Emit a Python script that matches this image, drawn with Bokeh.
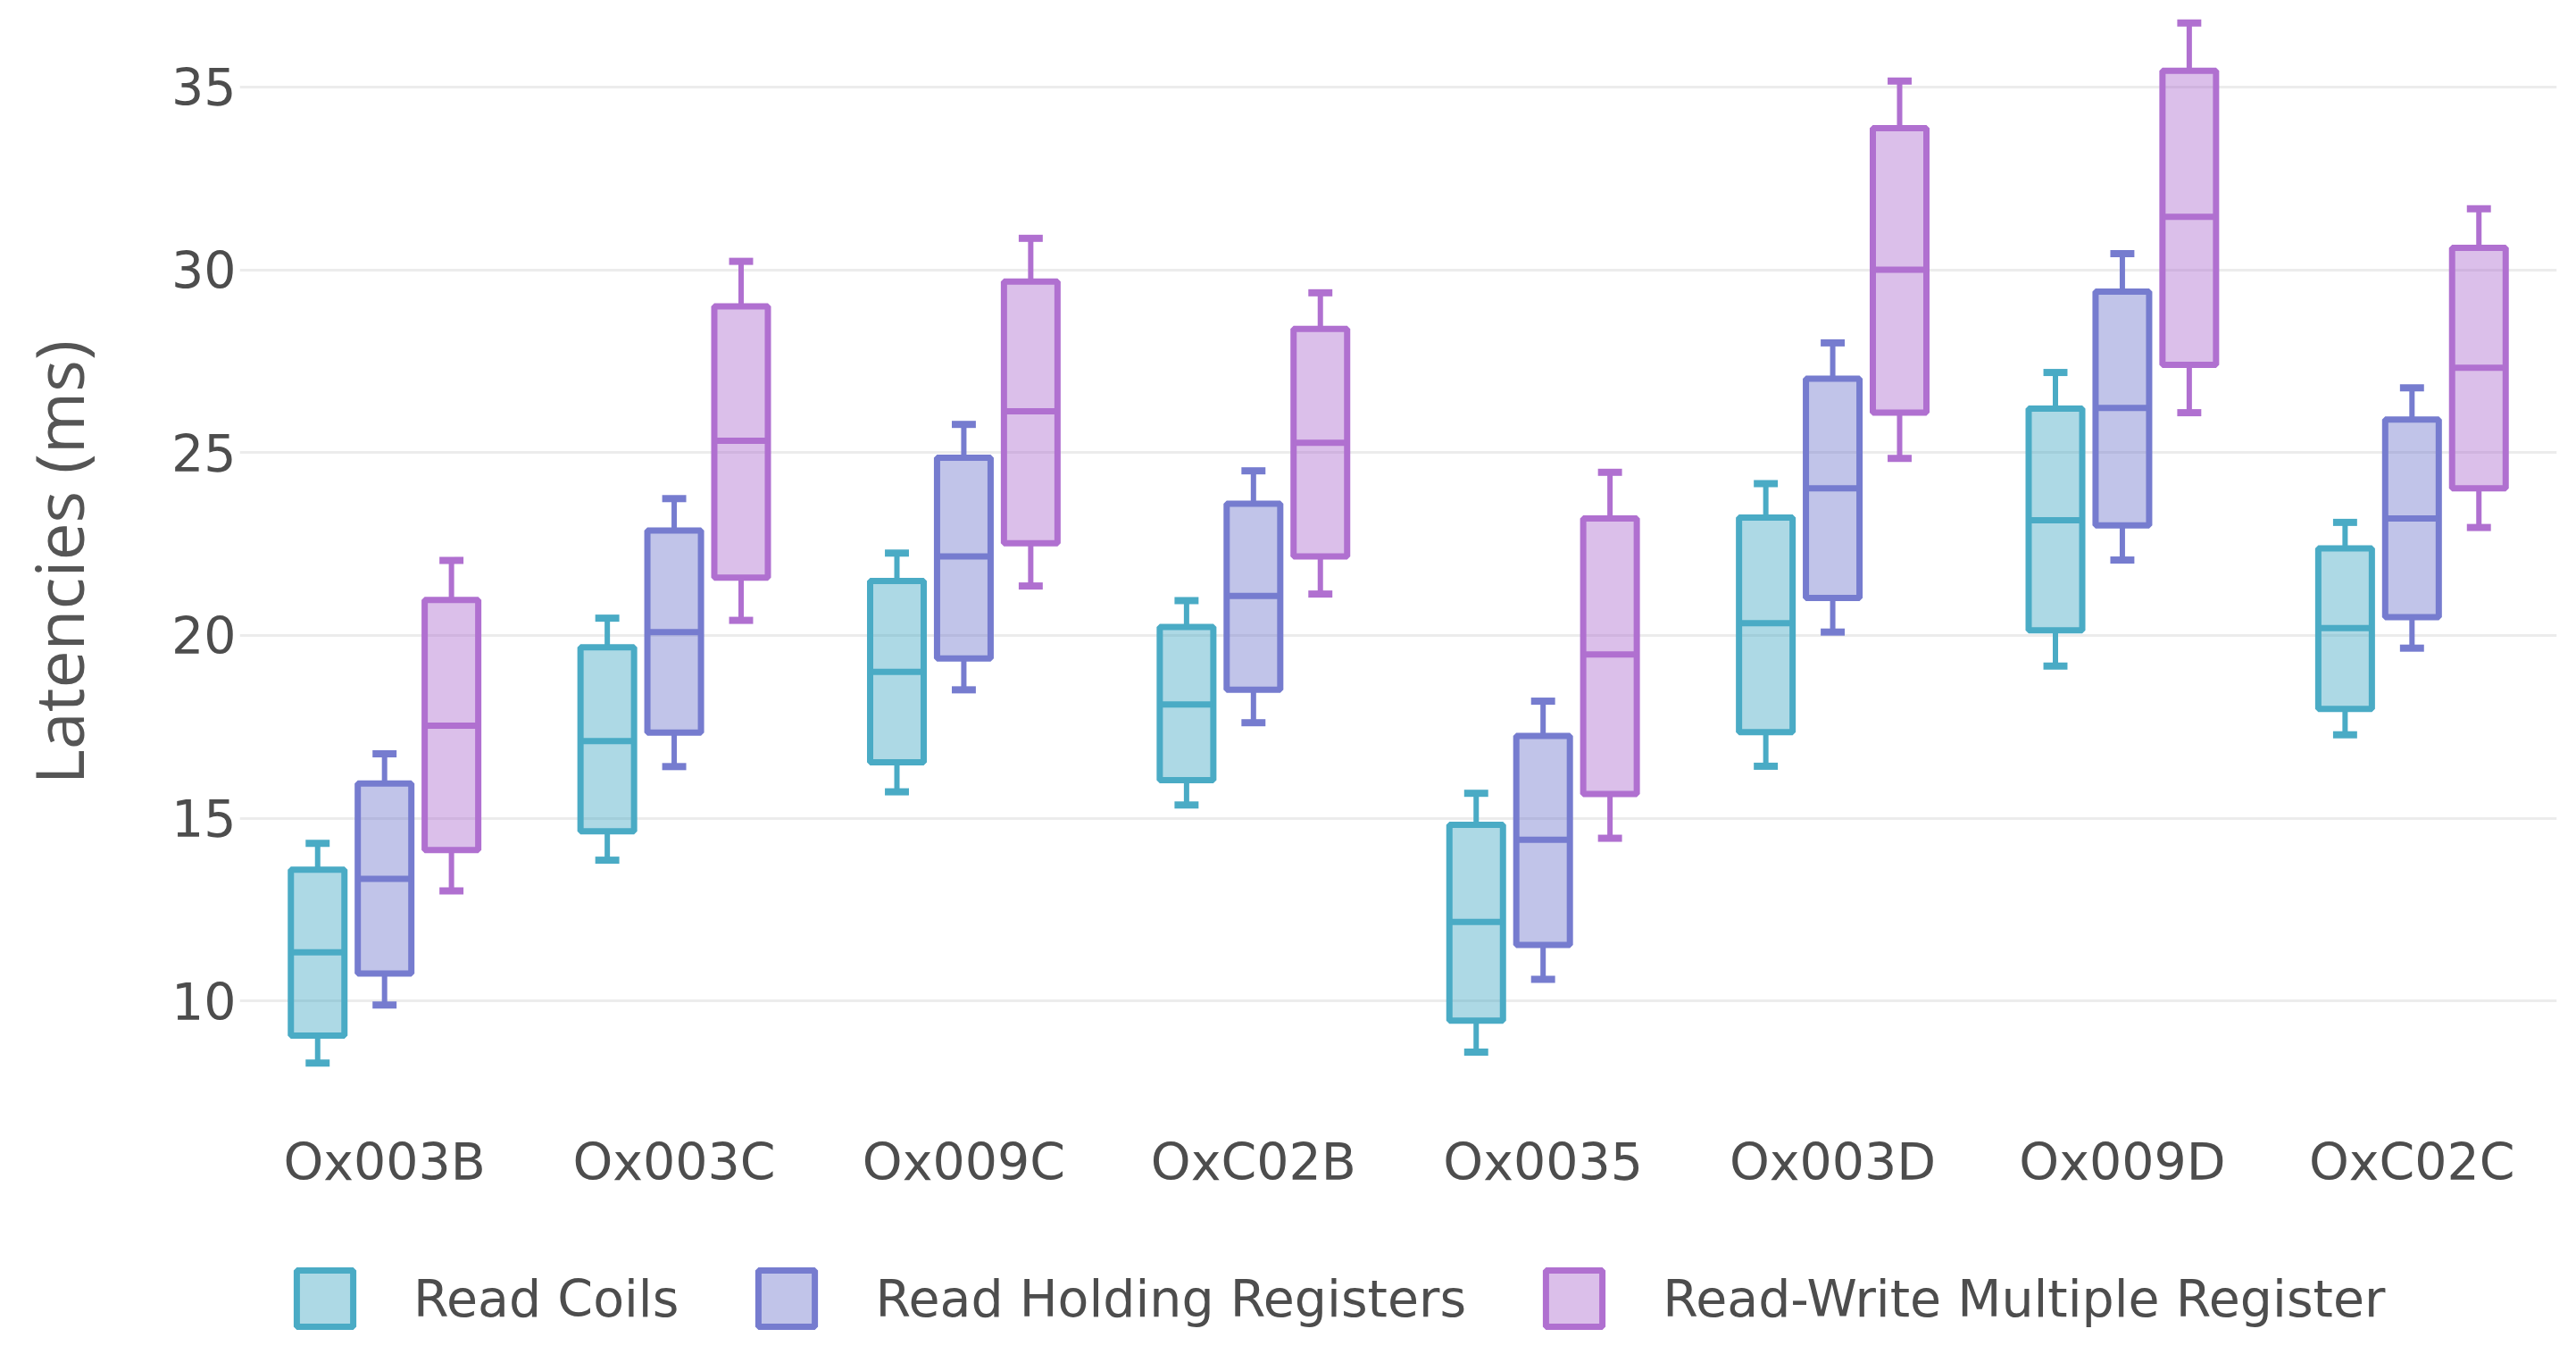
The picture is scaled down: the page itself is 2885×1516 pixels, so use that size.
from bokeh.plotting import figure
from bokeh.models import FactorRange, Legend, LegendItem, SingleIntervalTicker, ColumnDataSource
from bokeh.transform import dodge
from bokeh.layouts import column
from bokeh.embed import file_html
from bokeh.resources import INLINE

categories = ["Ox003B", "Ox003C", "Ox009C", "OxC02B", "Ox0035", "Ox003D", "Ox009D", "OxC02C"]
series_names = ["Read Coils", "Read Holding Registers", "Read-Write Multiple Register"]
series_colors = ["#4aabc5", "#767ccf", "#b070d0"]

rc_low = [8.30, 13.85, 15.72, 15.36, 8.60, 16.42, 19.16, 17.28]
rc_q1 = [9.05, 14.64, 16.53, 16.04, 9.46, 17.35, 20.14, 17.99]
rc_med = [11.33, 17.11, 19.00, 18.11, 12.16, 20.33, 23.15, 20.20]
rc_q3 = [13.59, 19.67, 21.49, 20.23, 14.82, 23.22, 26.20, 22.38]
rc_up = [14.31, 20.47, 22.25, 20.95, 15.68, 24.15, 27.19, 23.09]

rh_low = [9.89, 16.41, 18.51, 17.61, 10.59, 20.09, 22.06, 19.65]
rh_q1 = [10.75, 17.34, 19.37, 18.51, 11.53, 21.02, 23.01, 20.50]
rh_med = [13.34, 20.09, 22.16, 21.08, 14.41, 24.02, 26.22, 23.20]
rh_q3 = [15.95, 22.87, 24.86, 23.60, 17.25, 27.02, 29.40, 25.90]
rh_up = [16.76, 23.74, 25.77, 24.50, 18.20, 28.00, 30.44, 26.77]

rw_low = [13.01, 20.41, 21.35, 21.13, 14.45, 24.84, 26.09, 22.95]
rw_q1 = [14.13, 21.58, 22.52, 22.16, 15.66, 26.09, 27.40, 24.02]
rw_med = [17.53, 25.32, 26.13, 25.27, 19.48, 30.00, 31.45, 27.32]
rw_q3 = [20.97, 29.00, 29.68, 28.38, 23.20, 33.87, 35.44, 30.60]
rw_up = [22.05, 30.23, 30.86, 29.37, 24.46, 35.16, 36.75, 31.67]

y_label = "Latencies (ms)"

p = figure(x_range=FactorRange(*categories), y_range=(7, 37),
           width=2877, height=1360, output_backend="svg", toolbar_location=None,
           min_border_left=268, min_border_right=14, min_border_top=15, min_border_bottom=117)
p.outline_line_color = None
p.background_fill_color = "white"
p.border_fill_color = "white"
p.xgrid.grid_line_color = None
p.ygrid.grid_line_color = "#ececec"
p.ygrid.grid_line_width = 3

p.yaxis.ticker = SingleIntervalTicker(interval=5)
for ax in (p.xaxis[0], p.yaxis[0]):
    ax.axis_line_color = None
    ax.major_tick_line_color = None
    ax.minor_tick_line_color = None
    ax.major_tick_out = 0
    ax.major_tick_in = 0
    ax.minor_tick_out = 0
    ax.major_label_text_font = "DejaVu Sans"
    ax.major_label_text_font_size = "57px"
    ax.major_label_text_color = "#4d4d4d"
p.xaxis.major_label_standoff = 24
p.yaxis.major_label_standoff = 4
p.yaxis.axis_label = y_label
p.yaxis.axis_label_text_font = "Open Sans"
p.yaxis.axis_label_text_font_style = "normal"
p.yaxis.axis_label_text_font_size = "75px"
p.yaxis.axis_label_text_color = "#555555"
p.yaxis.axis_label_standoff = 73

offsets = [-0.231, 0.0, 0.231]
box_w = 0.185
cap_w = 0.083
data = [
    (rc_low, rc_q1, rc_med, rc_q3, rc_up),
    (rh_low, rh_q1, rh_med, rh_q3, rh_up),
    (rw_low, rw_q1, rw_med, rw_q3, rw_up),
]

for name, color, off, (lo, q1, md, q3, up) in zip(series_names, series_colors, offsets, data):
    src = ColumnDataSource(dict(cat=categories, low=lo, q1=q1, med=md, q3=q3, up=up))
    xc = dodge("cat", off, range=p.x_range)
    xl_cap = dodge("cat", off - cap_w / 2, range=p.x_range)
    xr_cap = dodge("cat", off + cap_w / 2, range=p.x_range)
    xl_box = dodge("cat", off - box_w / 2, range=p.x_range)
    xr_box = dodge("cat", off + box_w / 2, range=p.x_range)
    p.segment(x0=xc, x1=xc, y0="q3", y1="up", source=src, line_color=color, line_width=6)
    p.segment(x0=xc, x1=xc, y0="low", y1="q1", source=src, line_color=color, line_width=6)
    p.segment(x0=xl_cap, x1=xr_cap, y0="up", y1="up", source=src, line_color=color, line_width=8)
    p.segment(x0=xl_cap, x1=xr_cap, y0="low", y1="low", source=src, line_color=color, line_width=8)
    p.vbar(x=xc, width=box_w, bottom="q1", top="q3", source=src,
           fill_color=color, fill_alpha=0.45, line_color=color, line_width=7)
    p.segment(x0=xl_box, x1=xr_box, y0="med", y1="med", source=src, line_color=color, line_width=7)

# legend strip below the chart (its frame is aligned with the chart's frame)
p2 = figure(width=2877, height=148, output_backend="svg", toolbar_location=None,
            x_range=(0, 1), y_range=(0, 1), x_axis_location=None, y_axis_location=None,
            min_border_left=0, min_border_right=0, min_border_top=0, min_border_bottom=0)
p2.outline_line_color = None
p2.grid.visible = False
p2.background_fill_color = "white"
p2.border_fill_color = "white"

nan = float("nan")
items = []
for name, color in zip(series_names, series_colors):
    # legend proxy with no drawable data; only its legend swatch shows
    r = p2.vbar(x=[nan], bottom=[nan], top=[nan], width=0.1, fill_color=color, fill_alpha=0.45,
                line_color=color, line_width=7)
    items.append(LegendItem(label=name, renderers=[r]))

legend = Legend(items=items, orientation="horizontal", location=(56, 15),
                glyph_width=79, glyph_height=79, label_standoff=60, spacing=81,
                padding=0, margin=0, border_line_color=None, background_fill_alpha=0,
                label_text_font="DejaVu Sans", label_text_font_size="57px",
                label_text_color="#4d4d4d")
p2.add_layout(legend)

open("out.html", "w").write(file_html(column(p, p2, spacing=0), INLINE))
